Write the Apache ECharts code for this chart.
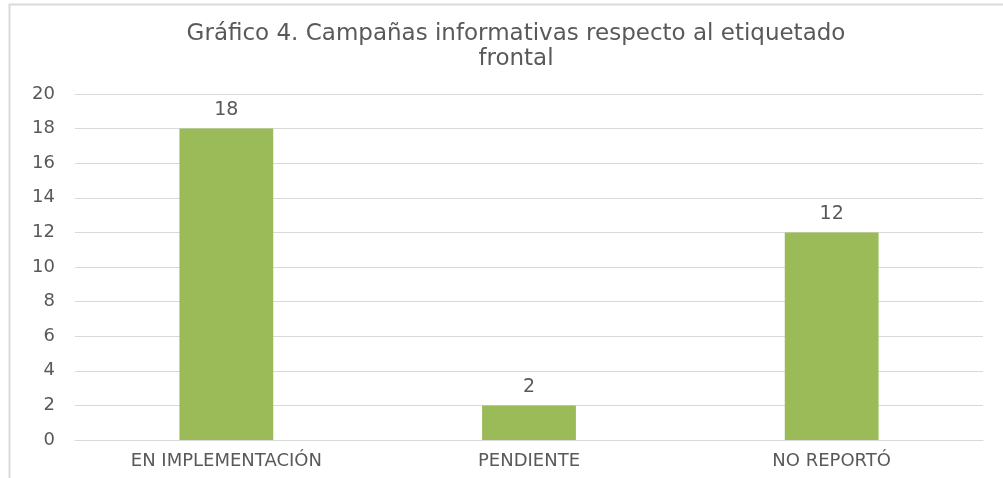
<!DOCTYPE html>
<html><head><meta charset="utf-8">
<script src="https://cdn.jsdelivr.net/npm/echarts@6/dist/echarts.min.js"></script>
<style>html,body{margin:0;padding:0;background:#fff;}#c{width:1003px;height:478px;}</style>
</head><body><div id="c"></div>
<script>
const categories = ['EN IMPLEMENTACIÓN', 'PENDIENTE', 'NO REPORTÓ'];
const values = [18, 2, 12];
const titleText = 'Gráfico 4. Campañas informativas respecto al etiquetado\nfrontal';
const chart = echarts.init(document.getElementById('c'));
const font = "'DejaVu Sans', sans-serif";
chart.setOption({
  animation: false,
  backgroundColor: '#fff',
  title: {
    text: titleText, left: 511, top: 17, textAlign: 'center',
    textStyle: { fontFamily: font, fontSize: 23, fontWeight: 'normal', color: '#595959', lineHeight: 25 }
  },
  grid: { left: 75, right: 20, top: 94, bottom: 38 },
  xAxis: {
    type: 'category', data: categories,
    axisLine: { lineStyle: { color: '#d9d9d9' } }, axisTick: { show: false },
    axisLabel: { fontFamily: font, fontSize: 18, color: '#595959', margin: 12 }
  },
  yAxis: {
    type: 'value', min: 0, max: 20, interval: 2,
    axisLine: { show: false }, axisTick: { show: false },
    splitLine: { lineStyle: { color: '#d9d9d9' } },
    axisLabel: { fontFamily: font, fontSize: 18, color: '#595959', margin: 20 }
  },
  series: [{
    type: 'bar', data: values, barWidth: '31%',
    itemStyle: { color: '#9bbb59' },
    label: { show: true, position: 'top', distance: 9, fontFamily: font, fontSize: 19, color: '#595959' }
  }],
  graphic: [
    { type: 'line', shape: { x1: 9, y1: 4.5, x2: 1003, y2: 4.5 }, style: { stroke: '#d9d9d9', lineWidth: 2 } },
    { type: 'line', shape: { x1: 9.5, y1: 4, x2: 9.5, y2: 478 }, style: { stroke: '#d9d9d9', lineWidth: 2 } }
  ]
});
</script></body></html>
